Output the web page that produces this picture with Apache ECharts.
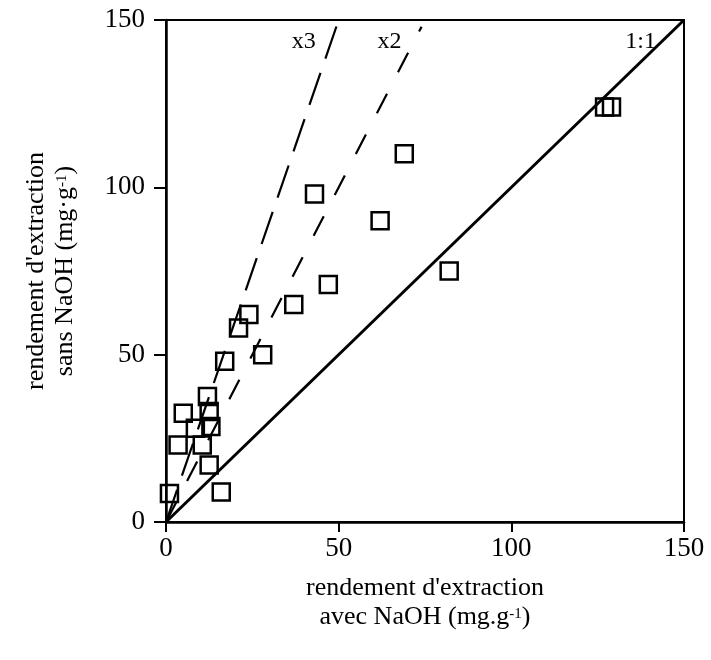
<!DOCTYPE html>
<html>
<head>
<meta charset="utf-8">
<script src="https://cdn.jsdelivr.net/npm/echarts@6/dist/echarts.min.js"></script>
<style>
  html, body { margin: 0; padding: 0; background: #fff; }
  #chart { width: 711px; height: 660px; }
</style>
</head>
<body>
<div id="chart"></div>
<script>
// Extraction yield with NaOH (x) vs without NaOH (y), mg.g-1
var avecNaOH = [127, 129, 82, 69, 62, 43, 47, 37, 24, 21, 28, 17, 12, 5, 12.5, 8.5, 13, 3.5, 10.5, 12.5, 16, 1];
var sansNaOH = [124, 124, 75, 110, 90, 98, 71, 65, 62, 58, 50, 48, 37.5, 32.5, 33, 28, 28.5, 23, 23, 17, 9, 8.5];

// Reference lines: ratio y/x and the x where each line stops
var refNames = ['x3', 'x2', '1:1'];
var refRatios = [3, 2, 1];
var refEndX = [50, 74, 150];

var axisTicks = [0, 50, 100, 150];

var points = avecNaOH.map(function (v, i) { return [v, sansNaOH[i]]; });

var serif = 'Liberation Serif';

var labelOffsets = [[-31, 22], [-28, 15], [-36, 22]];
var dashTypes = [[34, 15], [22, 24], 'solid'];
var widths = [2.2, 2.2, 3];

var refSeries = refNames.map(function (name, i) {
  return {
    name: name,
    type: 'line',
    silent: true,
    showSymbol: false,
    symbol: 'none',
    data: [[0, 0], [refEndX[i], refEndX[i] * refRatios[i]]],
    lineStyle: { color: '#000', width: widths[i], type: dashTypes[i] },
    endLabel: {
      show: true,
      formatter: name,
      fontFamily: serif,
      fontSize: 24,
      color: '#000',
      align: 'right',
      verticalAlign: 'middle',
      offset: labelOffsets[i]
    },
    z: 2
  };
});

var chart = echarts.init(document.getElementById('chart'), null, { renderer: 'canvas' });

var supStyle = { fontFamily: serif, fontSize: 15, color: '#000', verticalAlign: 'bottom', padding: [0, 0, 10, 0] };
var txtStyle = { fontFamily: serif, fontSize: 26, color: '#000', lineHeight: 29 };

chart.setOption({
  animation: false,
  backgroundColor: '#fff',
  grid: {
    left: 166, right: 27, top: 20, bottom: 138,
    show: true, borderColor: '#000', borderWidth: 2
  },
  xAxis: {
    type: 'value', min: 0, max: 150, interval: 50,
    splitLine: { show: false },
    axisLine: { lineStyle: { color: '#000', width: 2.5 } },
    axisTick: { inside: false, length: 10, lineStyle: { color: '#000', width: 2 } },
    axisLabel: { fontFamily: serif, fontSize: 27, color: '#000', margin: 13,
      formatter: function (v) { return axisTicks.indexOf(v) >= 0 ? String(v) : ''; } },
    name: '{t|rendement d\'extraction}\n{t|avec NaOH (mg.g}{s|-1}{t|)}',
    nameLocation: 'middle',
    nameGap: 52,
    nameTextStyle: { rich: { t: txtStyle, s: supStyle } }
  },
  yAxis: {
    type: 'value', min: 0, max: 150, interval: 50,
    splitLine: { show: false },
    axisLine: { lineStyle: { color: '#000', width: 2.5 } },
    axisTick: { inside: false, length: 12, lineStyle: { color: '#000', width: 2 } },
    axisLabel: { fontFamily: serif, fontSize: 27, color: '#000', margin: 21,
      formatter: function (v) { return axisTicks.indexOf(v) >= 0 ? String(v) : ''; } },
    name: '{t|rendement d\'extraction}\n{t|sans NaOH (mg·g}{s|-1}{t|)}',
    nameLocation: 'middle',
    nameRotate: 90,
    nameGap: 86,
    nameTextStyle: { rich: { t: txtStyle, s: supStyle } }
  },
  series: refSeries.concat([{
    name: 'échantillons',
    type: 'scatter',
    data: points,
    symbol: 'rect',
    symbolSize: 17,
    itemStyle: { color: 'rgba(0,0,0,0)', borderColor: '#000', borderWidth: 2.5, opacity: 1 },
    z: 3
  }])
});
</script>
</body>
</html>
